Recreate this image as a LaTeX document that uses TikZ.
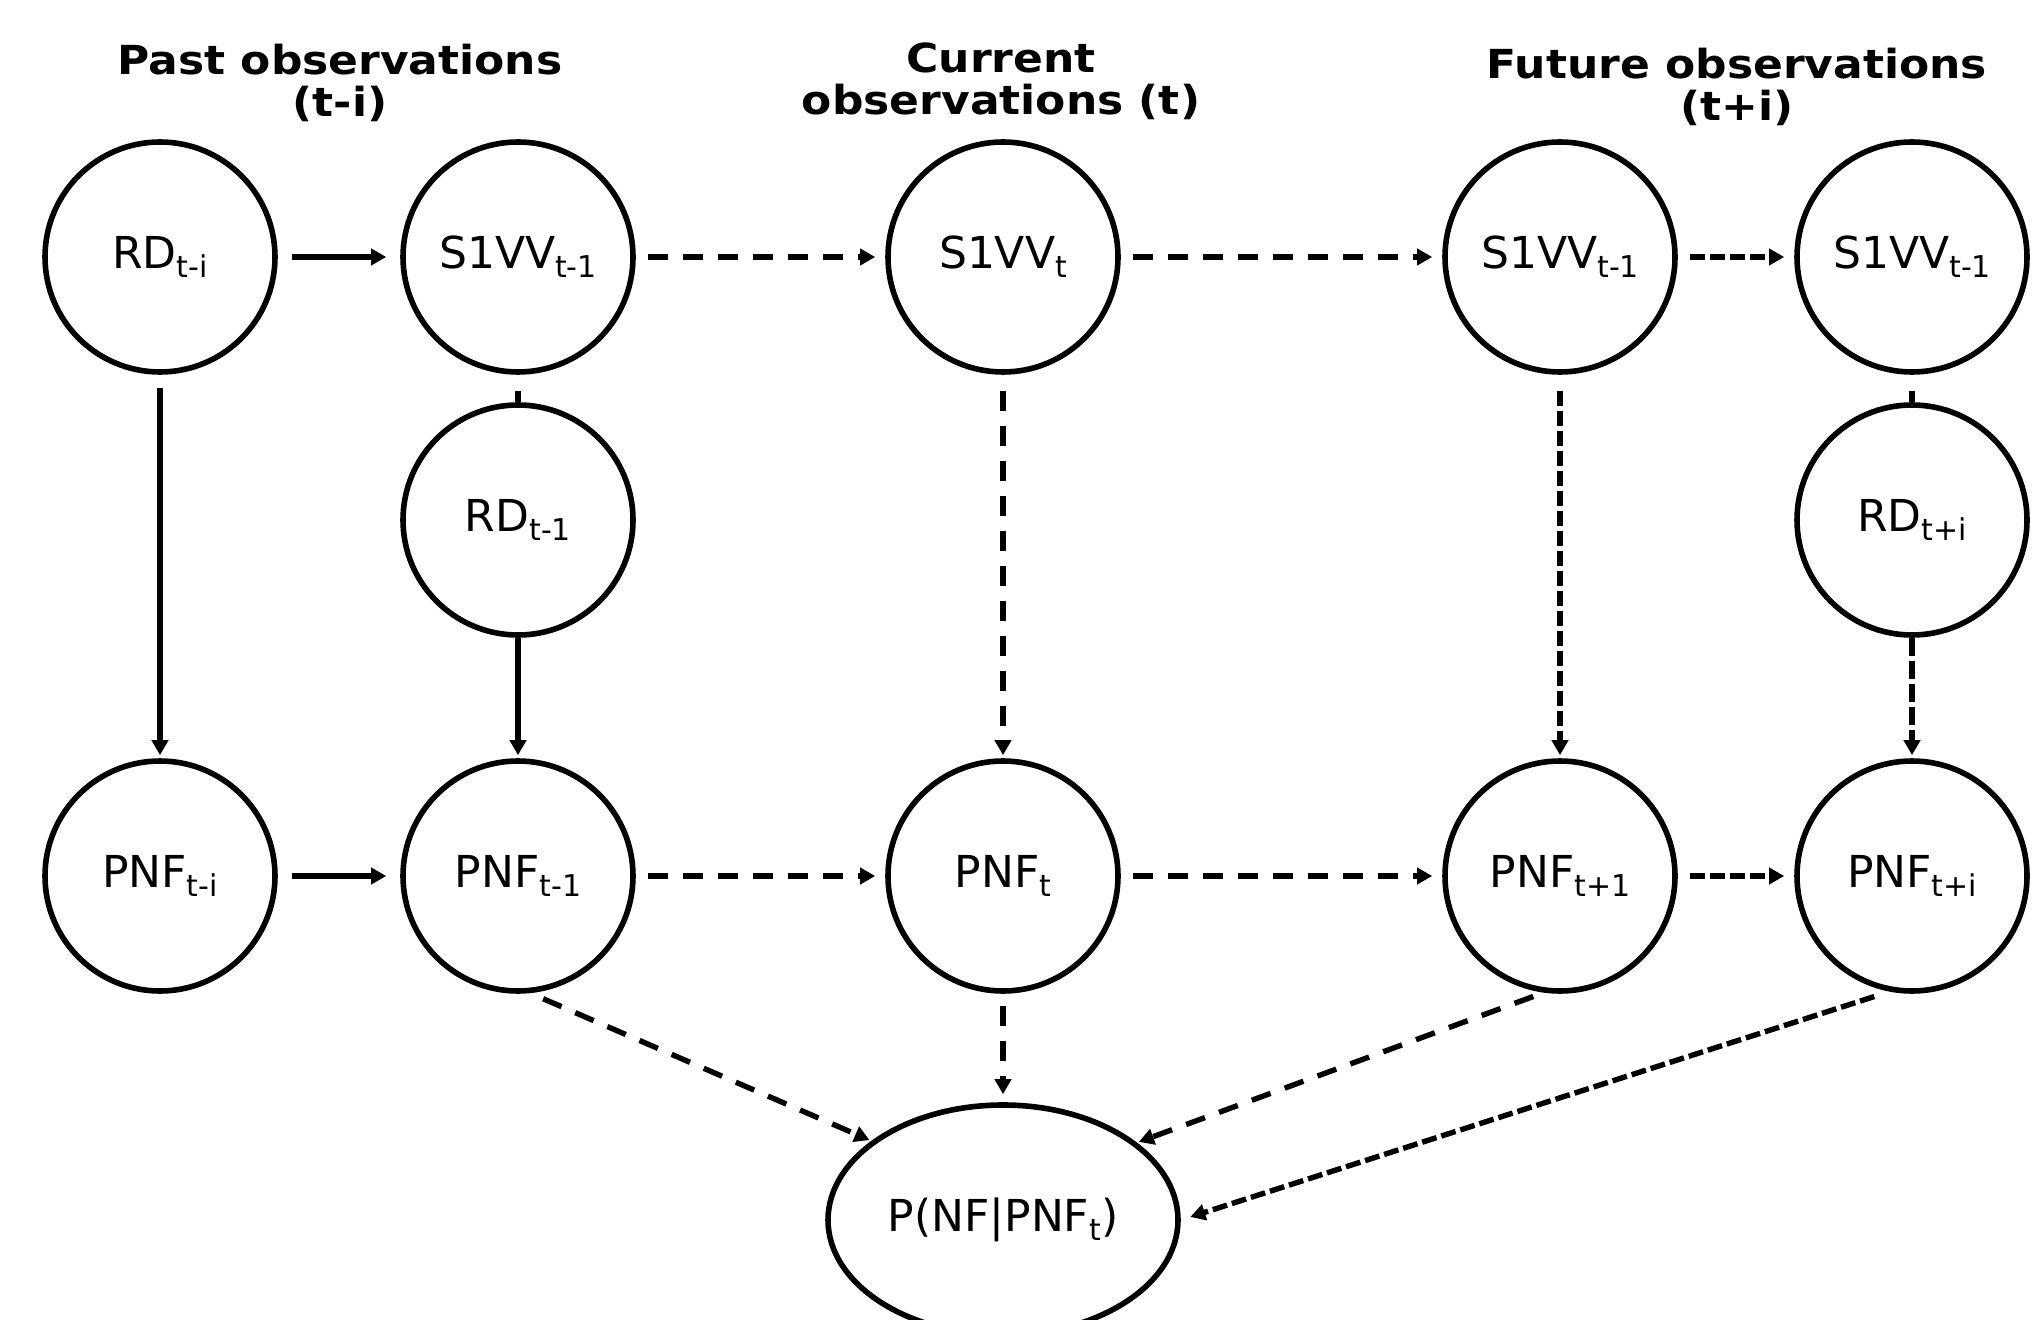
\documentclass[tikz,border=0pt]{standalone}
\usepackage{fontspec}
\setmainfont{DejaVu Sans}
\newfontfamily\titlefam[FakeStretch=1.1]{DejaVu Sans}
\usetikzlibrary{arrows.meta,shapes.geometric}
\newcommand\mysub[1]{\raisebox{-4.5pt}{\fontsize{15}{15}\selectfont #1}}
\begin{document}
\begin{tikzpicture}[x=0.5pt,y=-0.5pt,
  var/.style={circle,draw,line width=2.8pt,minimum size=115pt,inner sep=0pt,font=\fontsize{22}{25}\selectfont},
  conn/.style={line width=2.7pt},
  arr/.style={conn,-{Triangle[length=7.5pt,width=8pt]}},
  longdash/.style={dash pattern=on 10pt off 7.5pt},
  middash/.style={dash pattern=on 9pt off 2.5pt},
  finedash/.style={dash pattern=on 7.5pt off 2.5pt},
  ttl/.style={align=center,inner sep=0pt,anchor=north,font=\titlefam\bfseries\fontsize{20}{21}\selectfont}]
\useasboundingbox (0,0) rectangle (2034,1320);
\clip (0,0) rectangle (2034,1320);

\node[ttl] (tpast) at (340,44) {Past observations\\(t-i)};
\node[ttl] (tcur) at (1001,42) {Current\\observations (t)};
\node[ttl] (tfut) at (1737,48) {Future observations\\(t+i)};

\node[var] (RDa) at (160,257) {RD\mysub{t-i}};
\node[var] (Sa) at (518,257) {S1VV\mysub{t-1}};
\node[var] (Sb) at (1003,257) {S1VV\mysub{t}};
\node[var] (Sc) at (1560,257) {S1VV\mysub{t-1}};
\node[var] (Sd) at (1912,257) {S1VV\mysub{t-1}};
\node[var] (RDb) at (518,520) {RD\mysub{t-1}};
\node[var] (RDc) at (1912,520) {RD\mysub{t+i}};
\node[var] (Pa) at (160,876) {PNF\mysub{t-i}};
\node[var] (Pb) at (518,876) {PNF\mysub{t-1}};
\node[var] (Pc) at (1003,876) {PNF\mysub{t}};
\node[var] (Pd) at (1560,876) {PNF\mysub{t+1}};
\node[var] (Pe) at (1912,876) {PNF\mysub{t+i}};
\node[ellipse,draw,line width=2.8pt,minimum width=175pt,minimum height=115pt,inner sep=0pt,font=\fontsize{22}{25}\selectfont] (PNF) at (1003,1220) {P(NF|PNF\mysub{t})};

% row 1
\draw[arr,shorten <=7pt,shorten >=7pt] (RDa) -- (Sa);
\draw[arr,longdash,shorten <=6pt,shorten >=5pt] (Sa) -- (Sb);
\draw[arr,longdash,shorten <=6pt,shorten >=5pt] (Sb) -- (Sc);
\draw[arr,finedash,shorten <=6pt,shorten >=5pt] (Sc) -- (Sd);
% row 3
\draw[arr,shorten <=7pt,shorten >=7pt] (Pa) -- (Pb);
\draw[arr,longdash,shorten <=6pt,shorten >=5pt] (Pb) -- (Pc);
\draw[arr,longdash,shorten <=6pt,shorten >=5pt] (Pc) -- (Pd);
\draw[arr,finedash,shorten <=6pt,shorten >=5pt] (Pd) -- (Pe);
% verticals
\draw[arr,shorten <=6.5pt,shorten >=1.5pt] (RDa) -- (Pa);
\draw[conn,shorten <=8pt] (Sa) -- (RDb);
\draw[arr,shorten >=1.5pt] (RDb) -- (Pb);
\draw[arr,longdash,shorten <=8pt,shorten >=1.5pt] (Sb) -- (Pc);
\draw[arr,finedash,shorten <=8pt,shorten >=1.5pt] (Sc) -- (Pd);
\draw[conn,shorten <=8pt] (Sd) -- (RDc);
\draw[arr,middash,shorten >=1.5pt] (RDc) -- (Pe);
% to the bottom node
\draw[arr,longdash,shorten <=7pt,shorten >=1pt] (Pb.-84) -- (PNF.149);
\draw[arr,longdash,shorten <=6pt,shorten >=4pt] (Pc) -- (PNF);
\draw[arr,longdash,shorten <=5.5pt,shorten >=1pt] (Pd.-98) -- (PNF.30);
\draw[arr,finedash,shorten <=8pt,shorten >=5pt] (Pe.-101) -- (PNF.east);
\end{tikzpicture}
\end{document}
